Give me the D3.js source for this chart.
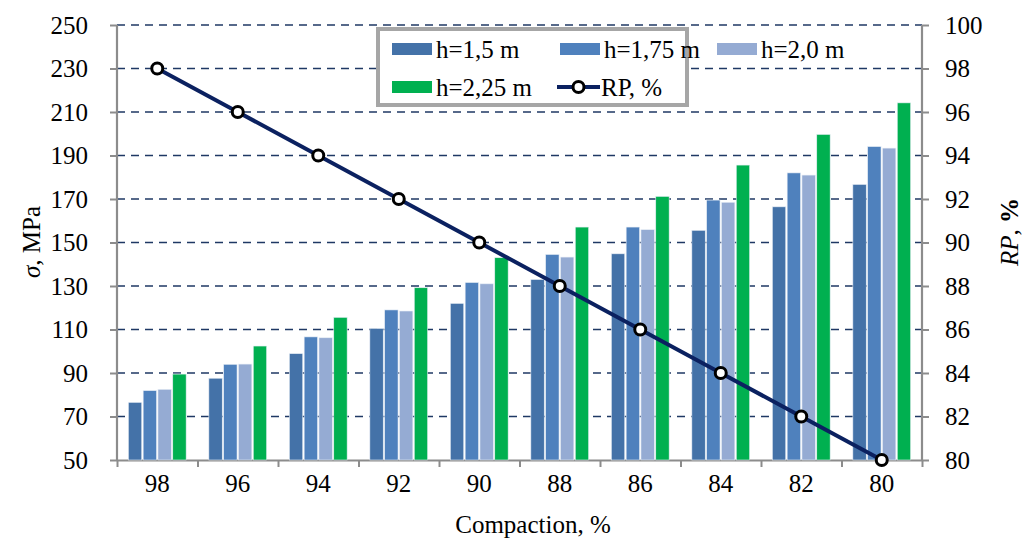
<!DOCTYPE html>
<html><head><meta charset="utf-8">
<script src="https://cdn.jsdelivr.net/npm/d3@7"></script>
<style>body{margin:0;background:#fff}svg{display:block}text{font-family:"Liberation Serif","Times New Roman",serif;fill:#000}</style>
</head><body><svg id="c" width="1023" height="542"></svg>
<script>
const categories = ["98","96","94","92","90","88","86","84","82","80"];
const seriesNames = ["h=1,5 m","h=1,75 m","h=2,0 m","h=2,25 m"];
const h150 = [76.5, 87.6, 98.9, 110.5, 122, 133, 144.8, 155.6, 166.4, 176.7];
const h175 = [81.9, 94.0, 106.6, 119, 131.6, 144.5, 157.1, 169.5, 182, 194.1];
const h200 = [82.5, 94.1, 106.2, 118.5, 131, 143.3, 155.9, 168.5, 181, 193.4];
const h225 = [89.5, 102.4, 115.6, 129.2, 143, 157.1, 171.2, 185.6, 199.7, 214.2];
const rp = [98, 96, 94, 92, 90, 88, 86, 84, 82, 80];
const leftTicks = [50,70,90,110,130,150,170,190,210,230,250];
const rightTicks = [80,82,84,86,88,90,92,94,96,98,100];
const colors = ["#4472A8","#4F81BD","#95ABD3","#00B050"];
const lineColor = "#0B2160";

const series = [h150,h175,h200,h225];
const svg = d3.select("#c");
const L=117, R=922, T=25, B=460;
const x0 = d3.scaleBand().domain(categories).range([L,R]).paddingInner(0).paddingOuter(0);
const x1 = d3.scaleBand().domain(d3.range(4)).range([0,x0.bandwidth()]).paddingInner(0.095).paddingOuter(0.767);
const yL = d3.scaleLinear().domain([50,250]).range([B,T]);
const yR = d3.scaleLinear().domain([80,100]).range([B,T]);

// gridlines
svg.append("g").selectAll("line").data(leftTicks.slice(1)).join("line")
  .attr("x1",L).attr("x2",R).attr("y1",d=>yL(d)).attr("y2",d=>yL(d))
  .attr("stroke","#1F3864").attr("stroke-width",1.6).attr("stroke-dasharray","8,6");

// axes lines (gray)
const gray="#8C8C8C";
const yAxisL = d3.axisLeft(yL).tickValues(leftTicks).tickSize(7).tickPadding(22);
const gL = svg.append("g").attr("transform",`translate(${L},0)`).call(yAxisL);
const yAxisR = d3.axisRight(yR).tickValues(rightTicks).tickSize(7).tickPadding(16);
const gR = svg.append("g").attr("transform",`translate(${R},0)`).call(yAxisR);
const xAxis = d3.axisBottom(d3.scaleLinear().domain([0,10]).range([L,R])).tickValues(d3.range(11)).tickSize(7).tickFormat("");
const gX = svg.append("g").attr("transform",`translate(0,${B})`).call(xAxis);
[gL,gR,gX].forEach(g=>{
  g.selectAll("path").attr("stroke",gray).attr("stroke-width",2.2);
  g.selectAll("line").attr("stroke",gray).attr("stroke-width",2);
  g.selectAll("text").style("font-size","25px").style("font-family","Liberation Serif").attr("fill","#000");
});
gX.select("path.domain").attr("d",`M${L},0.5H${R}`);
gL.select("path.domain").attr("d",`M0,${T}V${B}`);
gR.select("path.domain").attr("d",`M0,${T}V${B}`);
// x tick labels at category centers
svg.append("g").selectAll("text").data(categories).join("text")
  .attr("x",d=>x0(d)+x0.bandwidth()/2).attr("y",492).attr("text-anchor","middle")
  .style("font-size","25px").text(d=>d);

// bars
const gb = svg.append("g");
categories.forEach((c,i)=>{
  series.forEach((s,j)=>{
    gb.append("rect").attr("x",x0(c)+x1(j)).attr("width",x1.bandwidth())
      .attr("y",yL(s[i])).attr("height",yL(50)-yL(s[i]))
      .attr("fill",colors[j]).attr("stroke","#E8EEF6").attr("stroke-width",0.6);
  });
});

// RP line
const cx = c=>x0(c)+x0.bandwidth()/2;
const line = d3.line().x((d,i)=>cx(categories[i])).y(d=>yR(d));
svg.append("path").datum(rp).attr("d",line).attr("fill","none").attr("stroke",lineColor).attr("stroke-width",4);
svg.append("g").selectAll("circle").data(rp).join("circle")
  .attr("cx",(d,i)=>cx(categories[i])).attr("cy",d=>yR(d)).attr("r",5.5)
  .attr("fill","#fff").attr("stroke","#000").attr("stroke-width",3);

// axis titles
svg.append("text").attr("transform","translate(40,242) rotate(-90)").attr("text-anchor","middle")
  .style("font-size","25px").html('<tspan font-style="italic">σ</tspan>, MPa');
svg.append("text").attr("transform","translate(1018,232) rotate(-90)").attr("text-anchor","middle")
  .style("font-size","25px").html('<tspan font-style="italic">RP</tspan>, <tspan font-weight="bold">%</tspan>');
svg.append("text").attr("x",533).attr("y",533).attr("text-anchor","middle")
  .style("font-size","25px").text("Compaction, %");

// legend
const lg = svg.append("g");
lg.append("rect").attr("x",378).attr("y",29).attr("width",309).attr("height",76)
  .attr("fill","#fff").attr("stroke","#A6A6A6").attr("stroke-width",4);
const legItems = [
  {name:seriesNames[0], type:"bar", color:colors[0], x:392, y:49},
  {name:seriesNames[1], type:"bar", color:colors[1], x:560, y:49},
  {name:seriesNames[2], type:"bar", color:colors[2], x:717, y:49},
  {name:seriesNames[3], type:"bar", color:colors[3], x:392, y:87},
  {name:"RP, %", type:"line", color:lineColor, x:557, y:87}
];
legItems.forEach(it=>{
  if(it.type==="bar"){
    lg.append("rect").attr("x",it.x).attr("y",it.y-6).attr("width",40).attr("height",12).attr("fill",it.color);
  } else {
    lg.append("line").attr("x1",it.x).attr("x2",it.x+43).attr("y1",it.y).attr("y2",it.y).attr("stroke",it.color).attr("stroke-width",4);
    lg.append("circle").attr("cx",it.x+21.5).attr("cy",it.y).attr("r",5.5).attr("fill","#fff").attr("stroke","#000").attr("stroke-width",3);
  }
  lg.append("text").attr("x",it.x+44).attr("y",it.y+9).style("font-size","25px").text(it.name);
});
</script></body></html>
